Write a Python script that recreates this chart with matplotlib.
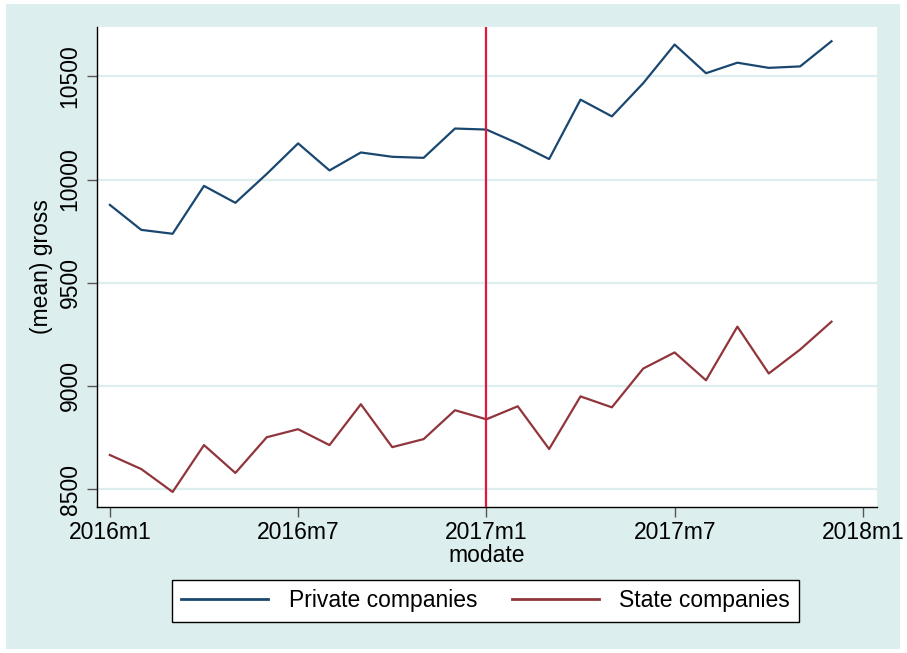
import matplotlib
matplotlib.use("Agg")
import matplotlib.pyplot as plt
from matplotlib.patches import Rectangle
import numpy as np

plt.rcParams["font.family"] = ["Liberation Sans", "DejaVu Sans"]

# monthly means, 2016m1 .. 2017m12
months = np.arange(24)
private = [9877, 9756, 9737, 9969, 9887, 10027, 10175, 10044, 10131, 10110,
           10105, 10247, 10242, 10175, 10099, 10387, 10306, 10467, 10654, 10515,
           10566, 10541, 10548, 10670]
state = [8665, 8597, 8486, 8713, 8578, 8751, 8790, 8713, 8911, 8703,
         8742, 8882, 8838, 8901, 8694, 8949, 8896, 9084, 9162, 9027,
         9287, 9060, 9176, 9311]

xtick_pos = [0, 6, 12, 18, 24]
xtick_labels = ["2016m1", "2016m7", "2017m1", "2017m7", "2018m1"]
ytick_pos = [8500, 9000, 9500, 10000, 10500]
cutoff = 12  # 2017m1

bg = "#ddeeee"
navy = "#1a476f"
maroon = "#90353b"
fs = 16.5

fig = plt.figure(figsize=(9.07, 6.53), dpi=100, facecolor="white")
# stata-like graph region
fig.patches.append(Rectangle((6 / 907, 4 / 653), 894 / 907, 645 / 653,
                             transform=fig.transFigure, facecolor=bg,
                             edgecolor="none", zorder=-10))

ax = fig.add_axes([97 / 907, 1 - 507 / 653, 780 / 907, 480 / 653])
ax.set_facecolor("white")

ax.plot(months, private, color=navy, lw=1.6, label="Private companies", zorder=3)
ax.plot(months, state, color=maroon, lw=1.6, label="State companies", zorder=3)
ax.axvline(cutoff, color="#e4163c", lw=1.6, zorder=4)

ax.set_xlim(-0.41, 24.45)
ax.set_ylim(8413, 10739)
ax.set_xticks(xtick_pos)
ax.set_xticklabels(xtick_labels)
ax.set_yticks(ytick_pos)
ax.set_yticklabels([str(v) for v in ytick_pos], rotation=90, va="center")

ax.grid(axis="y", color=bg, lw=1.6, zorder=1)
ax.set_axisbelow(True)
for s in ["top", "right"]:
    ax.spines[s].set_visible(False)
for s in ["left", "bottom"]:
    ax.spines[s].set_linewidth(1.0)
    ax.spines[s].set_color("black")

ax.tick_params(axis="both", direction="out", length=7, width=1,
               color="#555555", labelsize=fs, labelcolor="black")
ax.tick_params(axis="y", pad=4)
ax.tick_params(axis="x", pad=3)

ax.set_xlabel("modate", fontsize=fs, labelpad=0)
ax.set_ylabel("(mean) gross", fontsize=fs)
ax.yaxis.set_label_coords(-0.056, 0.5)

leg = fig.legend(loc="center", bbox_to_anchor=(485.5 / 907, 1 - 601 / 653),
                 ncol=2, fontsize=fs, frameon=True, fancybox=False,
                 handlelength=3.8, handletextpad=0.9, columnspacing=1.5,
                 borderpad=0.4, borderaxespad=0)
leg.get_frame().set_edgecolor("black")
leg.get_frame().set_facecolor("white")
leg.get_frame().set_alpha(1)
leg.get_frame().set_linewidth(1.0)
for line in leg.get_lines():
    line.set_linewidth(2.0)

fig.savefig("out.png", dpi=100, facecolor=fig.get_facecolor())
